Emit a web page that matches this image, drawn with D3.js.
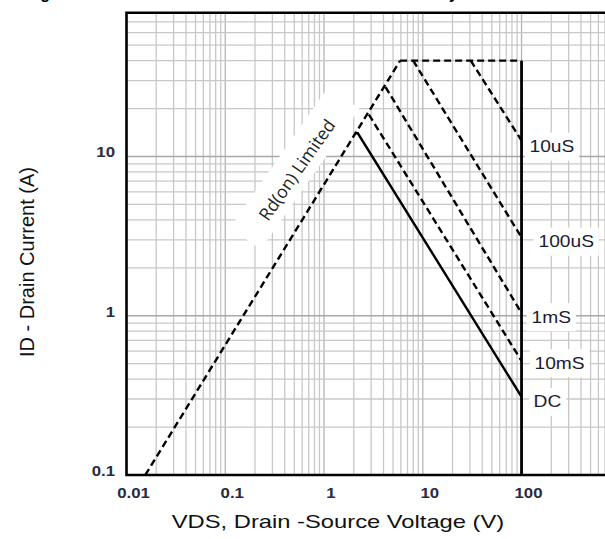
<!DOCTYPE html>
<html>
<head>
<meta charset="utf-8">
<script src="https://cdn.jsdelivr.net/npm/d3@7"></script>
<style>
  body { margin: 0; background: #fff; }
  svg { display: block; }
</style>
</head>
<body>
<div id="chart"></div>
<script>
// axis ticks
const xTicks = [0.01, 0.1, 1, 10, 100];
const yTicks = [0.1, 1, 10];

// SOA boundary (VDS in V, ID in A)
const rdonLine = [[0.0155, 0.1], [5.9, 40]];
const currentLimit = [[5.9, 40], [100, 40]];
const voltageLimit = [[100, 40], [100, 0.1]];
const us10 = [[30.6, 40], [100, 12.6]];
const us100 = [[8.0, 40], [100, 3.1]];
const ms1 = [[4.2, 27.3], [100, 1.04]];
const ms10 = [[2.85, 18.3], [100, 0.52]];
const dc = [[2.05, 14], [2.2, 14], [100, 0.31]];

const pulseNames = ["10uS", "100uS", "1mS", "10mS", "DC"];
const pulseSeries = [us10, us100, ms1, ms10, dc];

const W = 605, H = 539;
const pLeft = 126.5, pTop = 12.7, pBottom = 475, pRight = 605;
const stretch = 1.2;   // the source image is a bit wider than tall
const font = "Liberation Sans, Arial, sans-serif";

const svg = d3.select("#chart").append("svg")
    .attr("width", W)
    .attr("height", H);

const x = d3.scaleLog().domain([0.01, 700]).range([pLeft, pRight]);
const y = d3.scaleLog().domain([0.1, 80]).range([pBottom, pTop]);

// cut off title (only descenders visible)
svg.append("text")
    .attr("x", 28)
    .attr("y", -1)
    .attr("font-family", font)
    .attr("font-weight", "bold")
    .attr("font-size", 16)
    .attr("textLength", 430)
    .attr("lengthAdjust", "spacing")
    .text("Figure 11. Maximum Rated Forward Biased Safe Area Boundary");

svg.append("defs").append("clipPath")
    .attr("id", "clip")
    .append("rect")
    .attr("x", pLeft).attr("y", pTop)
    .attr("width", pRight - pLeft).attr("height", pBottom - pTop);

let plot = svg.append("g").attr("clip-path", "url(#clip)");

// grid
let xGrid = [], yGrid = [];
for (let d = 0.01; d < 1000; d *= 10) {
    for (let k = 1; k <= 9; k++) {
        let v = +(d * k).toPrecision(3);
        if (v <= 700) xGrid.push(v);
    }
}
for (let d = 0.1; d < 100; d *= 10) {
    for (let k = 1; k <= 9; k++) {
        let v = +(d * k).toPrecision(3);
        if (v <= 80) yGrid.push(v);
    }
}
const isMajor = v => Math.abs(Math.log10(v) - Math.round(Math.log10(v))) < 1e-6;

let grid = plot.append("g").attr("class", "grid");
grid.selectAll(".vx")
    .data(xGrid)
    .enter().append("line")
    .attr("x1", d => x(d)).attr("x2", d => x(d))
    .attr("y1", pTop).attr("y2", pBottom)
    .attr("stroke", d => isMajor(d) ? "#b4b4b4" : "#c8c8c8")
    .attr("stroke-width", 1.3);
grid.selectAll(".hy")
    .data(yGrid)
    .enter().append("line")
    .attr("x1", pLeft).attr("x2", pRight)
    .attr("y1", d => y(d)).attr("y2", d => y(d))
    .attr("stroke", d => isMajor(d) ? "#a8a8a8" : "#c8c8c8")
    .attr("stroke-width", 1.3);

// white box behind Rd(on) label
const rdX = 297, rdY = 170, rdAngle = -55;
plot.append("rect")
    .attr("x", -86).attr("y", -22)
    .attr("width", 172).attr("height", 38)
    .attr("fill", "#fff")
    .attr("transform", `translate(${rdX},${rdY}) rotate(${rdAngle})`);

// label boxes + labels at the 100 V edge
const labelDx = [8, 17, 10, 13, 12];
const labelDy = [6, 4, 4, 2, 5];
let labels = plot.append("g");
pulseSeries.forEach((s, i) => {
    const end = s[s.length - 1];
    const g = labels.append("g")
        .attr("transform", `translate(${x(end[0]) + labelDx[i]},${y(end[1]) + labelDy[i]}) scale(${stretch},1)`);
    const t = g.append("text")
        .attr("dy", "0.35em")
        .attr("font-family", font)
        .attr("font-size", 16)
        .attr("fill", "#1c1c30")
        .text(pulseNames[i]);
    const bb = t.node().getBBox();
    g.insert("rect", "text")
        .attr("x", bb.x - 4).attr("y", bb.y - 5)
        .attr("width", bb.width + 8).attr("height", bb.height + 10)
        .attr("fill", "#fff");
});

// curves
const line = d3.line().x(d => x(d[0])).y(d => y(d[1]));
let curves = plot.append("g").attr("fill", "none").attr("stroke", "#000").attr("stroke-width", 2.4);

[rdonLine, currentLimit, us10, us100, ms1, ms10].forEach(s => {
    curves.append("path")
        .attr("d", line(s))
        .attr("stroke-dasharray", "7,4");
});
curves.append("path").attr("d", line(dc));
curves.append("path").attr("d", line(voltageLimit)).attr("stroke-width", 2.8);

// Rd(on) label
plot.append("text")
    .attr("transform", `translate(${rdX},${rdY}) rotate(${rdAngle})`)
    .attr("text-anchor", "middle")
    .attr("dy", "0.35em")
    .attr("font-family", "Open Sans, Noto Sans, sans-serif")
    .attr("font-size", 17.5)
    .attr("fill", "#222")
    .text("Rd(on) Limited");

// frame
svg.append("path")
    .attr("d", `M${pRight + 2},${pTop} H${pLeft} V${pBottom} H${pRight + 2}`)
    .attr("fill", "none")
    .attr("stroke", "#000")
    .attr("stroke-width", 2.6);

// tick labels
svg.append("g")
    .selectAll("text")
    .data(xTicks)
    .enter().append("text")
    .attr("transform", d => `translate(${x(d) + 7},493) scale(${stretch},1)`)
    .attr("dy", "0.35em")
    .attr("text-anchor", "middle")
    .attr("font-family", font)
    .attr("font-weight", "bold")
    .attr("font-size", 14)
    .attr("fill", "#2a2a40")
    .text(d => d3.format("~g")(d));

svg.append("g")
    .selectAll("text")
    .data(yTicks)
    .enter().append("text")
    .attr("transform", d => `translate(115,${y(d) - 4}) scale(${stretch},1)`)
    .attr("dy", "0.35em")
    .attr("text-anchor", "end")
    .attr("font-family", font)
    .attr("font-weight", "bold")
    .attr("font-size", 14)
    .attr("fill", "#2a2a40")
    .text(d => d3.format("~g")(d));

// axis titles
svg.append("text")
    .attr("transform", `translate(338,528) scale(1.25,1)`)
    .attr("text-anchor", "middle")
    .attr("font-family", font)
    .attr("font-size", 19)
    .attr("fill", "#111")
    .text("VDS, Drain -Source Voltage (V)");

svg.append("text")
    .attr("transform", "translate(34,262) rotate(-90)")
    .attr("text-anchor", "middle")
    .attr("font-family", font)
    .attr("font-size", 20)
    .attr("fill", "#111")
    .text("ID - Drain Current (A)");
</script>
</body>
</html>
